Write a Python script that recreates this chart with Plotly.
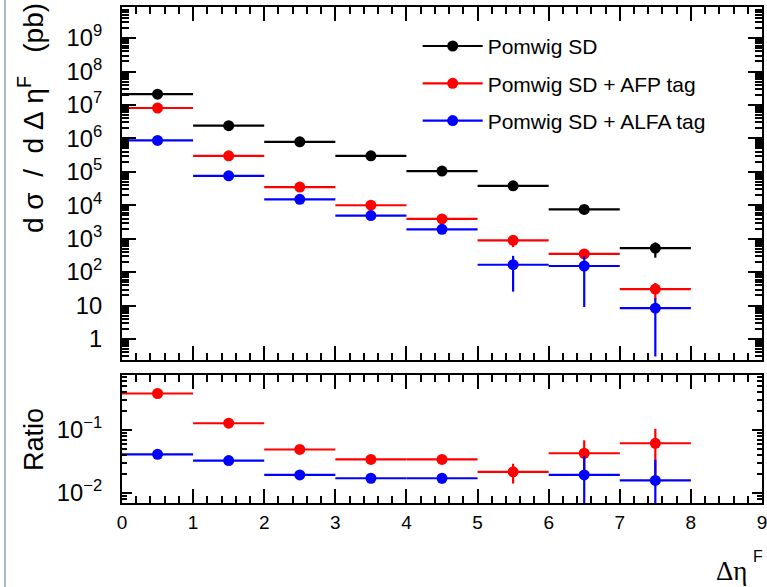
import plotly.graph_objects as go

# ---------------- data ----------------
bin_centers = [0.5, 1.5, 2.5, 3.5, 4.5, 5.5, 6.5, 7.5]
bin_half_width = 0.5

sd_vals = [2.1e7, 2.4e6, 7.9e5, 3.0e5, 1.05e5, 3.8e4, 7.5e3, 5.2e2]
sd_errs = [5e4, 1e4, 3e3, 1.5e3, 6e2, 3e2, 1e3, 250]

afp_vals = [8.1e6, 3.0e5, 3.5e4, 1.0e4, 3.9e3, 8.9e2, 3.5e2, 31]
afp_errs = [3e4, 5e3, 1e3, 5e2, 3e2, 3.3e2, 1e2, 16]

alfa_vals = [8.7e5, 7.6e4, 1.5e4, 4.9e3, 1.9e3, 166, 152, 8.3]
alfa_errs = [1e4, 2e3, 7e2, 3e2, 2e2, 140, 143, 8.0]

ratio_afp = [0.38, 0.128, 0.049, 0.034, 0.034, 0.0216, 0.0427, 0.0615]
ratio_afp_errs = [0.004, 0.002, 0.001, 0.0008, 0.001, 0.0075, 0.026, 0.043]

ratio_alfa = [0.0411, 0.0326, 0.0193, 0.0171, 0.0171, 0.0044, 0.0193, 0.0158]
ratio_alfa_errs = [0.0005, 0.0004, 0.0003, 0.0003, 0.003, 0.002, 0.019, 0.018]

labels = ["Pomwig SD", "Pomwig SD + AFP tag", "Pomwig SD + ALFA tag"]
colors = ["#000000", "#ff0000", "#0000ff"]

FONT = "Liberation Sans, Arial, sans-serif"
NB = "\u00a0"

fig = go.Figure()


def add_series(x, y, err, color, xa, ya):
    fig.add_trace(go.Scatter(
        x=x, y=y, mode="markers",
        marker=dict(color=color, size=11, symbol="circle"),
        error_x=dict(type="constant", value=bin_half_width, width=0, thickness=2.2, color=color),
        error_y=dict(type="data", array=err, width=0, thickness=2.2, color=color),
        xaxis=xa, yaxis=ya, showlegend=False, cliponaxis=True,
    ))


add_series(bin_centers, sd_vals, sd_errs, colors[0], "x", "y")
add_series(bin_centers, afp_vals, afp_errs, colors[1], "x", "y")
add_series(bin_centers, alfa_vals, alfa_errs, colors[2], "x", "y")
add_series(bin_centers, ratio_afp, ratio_afp_errs, colors[1], "x2", "y2")
add_series(bin_centers, ratio_alfa, ratio_alfa_errs, colors[2], "x2", "y2")

# legend entries
for i, (lab, col) in enumerate(zip(labels, colors)):
    fig.add_trace(go.Scatter(
        x=[None], y=[None], mode="lines+markers", name=lab,
        line=dict(color=col, width=2.2), marker=dict(color=col, size=11),
        xaxis="x", yaxis="y", legendgroup=str(i),
    ))

axis_common = dict(
    showline=True, linecolor="black", linewidth=2, mirror="ticks",
    ticks="inside", tickcolor="black", tickwidth=2,
    showgrid=False, zeroline=False, automargin=False,
    ticklabeloverflow="allow",
    tickfont=dict(family=FONT, size=19, color="black"),
)

ytitle = ("d" + NB + "σ" + NB * 2 + "/" + NB * 2 + "d" + NB + "Δ" + NB + "η"
          + "<sup>F</sup>" + NB * 3 + "(pb)")

fig.update_layout(
    width=767, height=587,
    margin=dict(l=122, r=5, t=7, b=84),
    paper_bgcolor="white", plot_bgcolor="white",
    font=dict(family=FONT, color="black"),
    xaxis=dict(
        **axis_common, domain=[0, 1], range=[0, 9], dtick=1, ticklen=14,
        showticklabels=False, anchor="y",
        minor=dict(dtick=0.2, ticks="inside", ticklen=7, tickwidth=2, tickcolor="black"),
    ),
    yaxis=dict(
        **axis_common, type="log", domain=[0.2883, 1], range=[-0.63, 9.93],
        dtick=1, exponentformat="power", ticklen=14, anchor="x",
        ticklabelstandoff=14,
        minor=dict(dtick="D1", ticks="inside", ticklen=7, tickwidth=2, tickcolor="black"),
    ),
    xaxis2=dict(
        **axis_common, domain=[0, 1], range=[0, 9], dtick=1, ticklen=14,
        anchor="y2", matches="x", ticklabelstandoff=1,
        minor=dict(dtick=0.2, ticks="inside", ticklen=7, tickwidth=2, tickcolor="black"),
    ),
    yaxis2=dict(
        **axis_common, type="log", domain=[0, 0.258], range=[-2.16, -0.127],
        dtick=1, exponentformat="power",
        ticklen=10, anchor="x2", ticklabelstandoff=14,
        minor=dict(dtick="D1", ticks="inside", ticklen=5, tickwidth=2, tickcolor="black"),
    ),
    legend=dict(
        x=0.462, y=0.962, xanchor="left", yanchor="top",
        bgcolor="rgba(0,0,0,0)", borderwidth=0,
        font=dict(family=FONT, size=21, color="black"),
        itemwidth=60, traceorder="grouped", tracegroupgap=7,
    ),
    annotations=[
        dict(text=ytitle, textangle=-90, xref="paper", yref="paper",
             x=(31 - 122) / 640, y=(503 - 118) / 496, xanchor="center", yanchor="middle",
             showarrow=False, font=dict(family=FONT, size=28, color="black")),
        dict(text="Ratio", textangle=-90, xref="paper", yref="paper",
             x=(34 - 122) / 640, y=(503 - 440) / 496, xanchor="center", yanchor="middle",
             showarrow=False, font=dict(family=FONT, size=27, color="black")),
        dict(text="Δη", xref="paper", yref="paper",
             x=(731 - 122) / 640, y=(503 - 571) / 496, xanchor="center", yanchor="middle",
             showarrow=False, font=dict(family="Liberation Serif, serif", size=27, color="black")),
        dict(text="F", xref="paper", yref="paper",
             x=(758 - 122) / 640, y=(503 - 556) / 496, xanchor="center", yanchor="middle",
             showarrow=False, font=dict(family=FONT, size=16, color="black")),
    ],
    shapes=[
        dict(type="line", xref="paper", yref="paper",
             x0=(5 - 122) / 640, x1=(5 - 122) / 640, y0=(503 - 0) / 496, y1=(503 - 587) / 496,
             line=dict(color="#8fa3b3", width=1.5)),
    ],
)

fig.write_html("out.html")
